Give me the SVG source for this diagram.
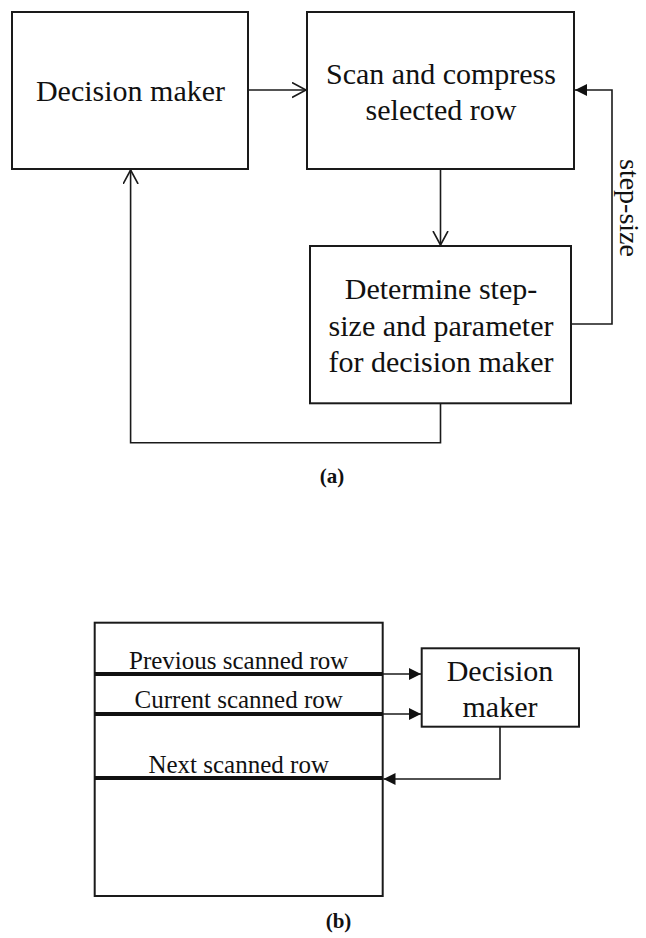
<svg xmlns="http://www.w3.org/2000/svg" width="646" height="938" viewBox="0 0 646 938">
<defs>
<style>
.box{fill:#fff;stroke:#1a1a1a;stroke-width:2}
.ln{fill:none;stroke:#1a1a1a;stroke-width:1.6}
.thick{fill:none;stroke:#111;stroke-width:4}
.t{font-family:"Liberation Serif","Times New Roman",serif;fill:#111;text-anchor:middle}
.big{font-size:30px}
.side{font-size:28px}
.row{font-size:25px}
.lab{font-size:21px;font-weight:bold}
</style>
<marker id="open" markerUnits="userSpaceOnUse" markerWidth="16" markerHeight="18" refX="14" refY="8" orient="auto">
<path d="M0,0.5 L14,8 L0,15.5" fill="none" stroke="#1a1a1a" stroke-width="1.6"/>
</marker>
<marker id="fill" markerUnits="userSpaceOnUse" markerWidth="14" markerHeight="14" refX="12" refY="6" orient="auto">
<path d="M0,0 L12,6 L0,12 z" fill="#111"/>
</marker>
</defs>
<rect width="646" height="938" fill="#fff"/>

<g id="connectors">
<path class="ln" d="M248,90 H306" marker-end="url(#open)"/>
<path class="ln" d="M440.5,169 V245" marker-end="url(#open)"/>
<path class="ln" d="M571,324 H612 V90 H575" marker-end="url(#fill)"/>
<path class="ln" d="M440.5,403.3 V442.7 H130.6 V170" marker-end="url(#open)"/>
<path class="ln" d="M382.7,674 H421" marker-end="url(#fill)"/>
<path class="ln" d="M382.7,714 H421" marker-end="url(#fill)"/>
<path class="ln" d="M500,726.7 V779 H383.5" marker-end="url(#fill)"/>
</g>

<g id="decision-maker-a">
<rect class="box" x="12" y="12" width="236" height="157"/>
<text class="t big" x="130.5" y="100.5">Decision maker</text>
</g>

<g id="scan-compress">
<rect class="box" x="307" y="12" width="267" height="157"/>
<text class="t big" x="441" y="83.5">Scan and compress</text>
<text class="t big" x="441" y="120">selected row</text>
</g>

<g id="determine-step">
<rect class="box" x="310" y="246" width="261" height="157.3"/>
<text class="t big" x="441" y="299.3">Determine step-</text>
<text class="t big" x="441" y="335.7">size and parameter</text>
<text class="t big" x="441" y="372.3">for decision maker</text>
</g>

<g id="step-size-label">
<text class="t side" transform="translate(620,208) rotate(90)">step-size</text>
</g>

<g id="label-a">
<text class="t lab" x="332" y="482.5">(a)</text>
</g>

<g id="scan-frame">
<rect class="box" x="94.7" y="622.7" width="288" height="273.3"/>
<path class="thick" d="M94.7,674 H382.7 M94.7,714 H382.7 M94.7,778 H382.7"/>
<text class="t row" x="238.7" y="669">Previous scanned row</text>
<text class="t row" x="238.7" y="707.5">Current scanned row</text>
<text class="t row" x="238.7" y="773">Next scanned row</text>
</g>

<g id="decision-maker-b">
<rect class="box" x="421.7" y="648.3" width="157.3" height="78.4"/>
<text class="t big" x="500" y="681">Decision</text>
<text class="t big" x="500" y="716.7">maker</text>
</g>

<g id="label-b">
<text class="t lab" x="338.5" y="928">(b)</text>
</g>
</svg>
